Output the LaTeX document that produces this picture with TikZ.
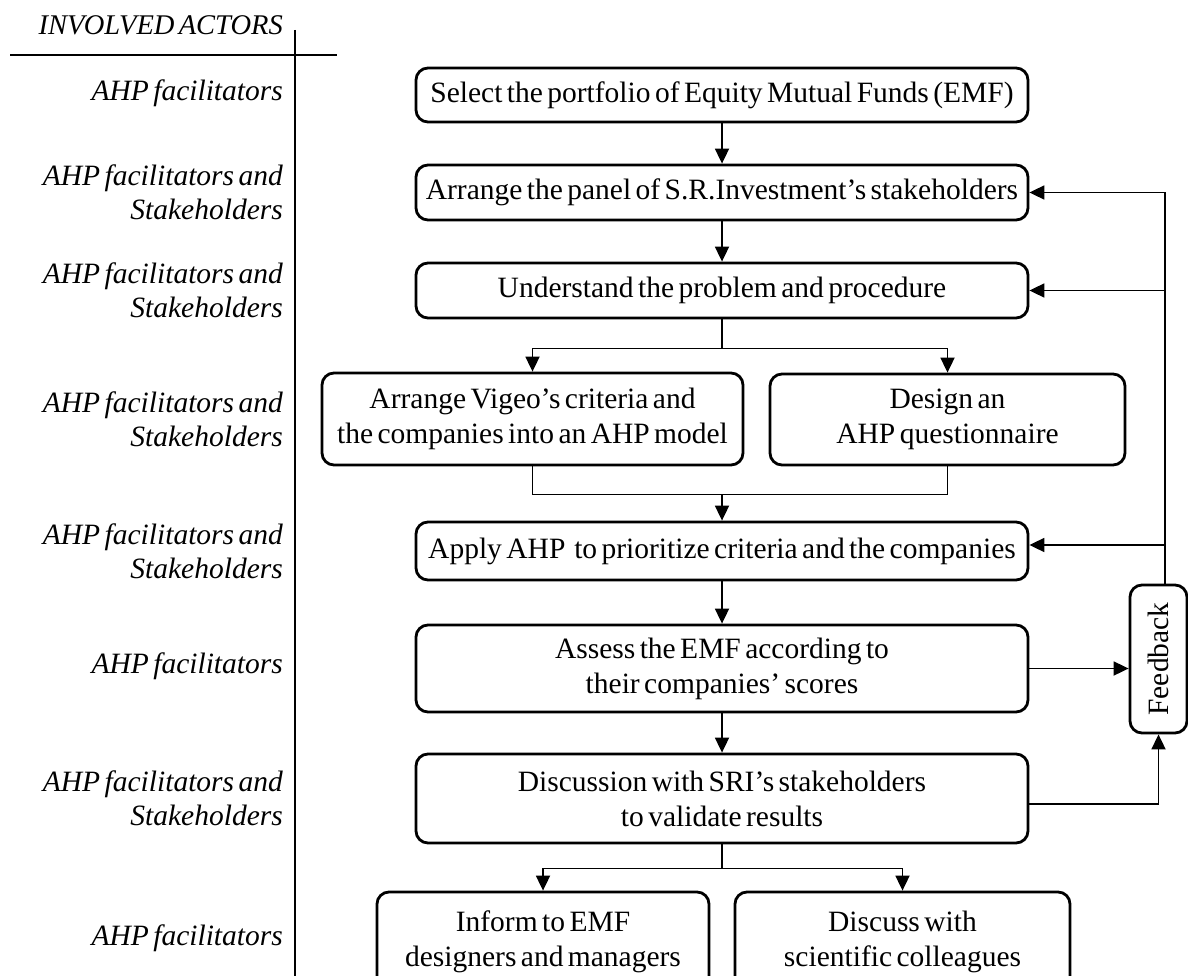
\documentclass[tikz,border=0pt]{standalone}
\usepackage{fontspec}
\setmainfont[WordSpace=0.6]{Liberation Serif}
\usetikzlibrary{arrows.meta,calc}
\tikzset{
  box/.style={draw, line width=2.8pt, rounded corners=12pt, align=center, inner sep=0pt,
    font=\fontsize{29.5}{35}\selectfont},
  lbl/.style={anchor=east, align=right, inner sep=0pt, font=\fontsize{29.5}{34}\selectfont\itshape},
  arr/.style={line width=1.8pt, -{Triangle[length=15pt,width=14pt]}},
  ln/.style={line width=1.8pt}
}
\begin{document}
\begin{tikzpicture}[x=1pt,y=-1pt]
\useasboundingbox (0,0) rectangle (1188,976);
\clip (0,0) rectangle (1188,976);

% actors column
\node[lbl, font=\fontsize{28.5}{34}\selectfont\itshape] (hdr) at (283,25) {INVOLVED ACTORS};
\coordinate (hl) at (10,55);
\coordinate (hr) at (337,55);
\coordinate (vt) at (295,30);
\coordinate (vb) at (295,976);
\draw[line width=2pt] (hl) -- (hr);
\draw[line width=2pt] (vt) -- (vb);

\node[lbl] (a1) at (283,93) {AHP facilitators};
\node[lbl] (a2) at (283,192) {AHP facilitators and\\Stakeholders};
\node[lbl] (a3) at (283,290) {AHP facilitators and\\Stakeholders};
\node[lbl] (a4) at (283,419) {AHP facilitators and\\Stakeholders};
\node[lbl] (a5) at (283,551) {AHP facilitators and\\Stakeholders};
\node[lbl] (a6) at (283,666) {AHP facilitators};
\node[lbl] (a7) at (283,798) {AHP facilitators and\\Stakeholders};
\node[lbl] (a8) at (283,938) {AHP facilitators};

% process boxes
\node[box, minimum width=612pt, minimum height=54pt] (b1) at (722,95)
  {Select the portfolio of Equity Mutual Funds (EMF)};
\node[box, minimum width=612pt, minimum height=55pt] (b2) at (722,192.5)
  {Arrange the panel of S.R.Investment’s stakeholders};
\node[box, minimum width=612pt, minimum height=55pt] (b3) at (722,290.5)
  {Understand the problem and procedure};
\node[box, minimum width=421pt, minimum height=92pt] (b4) at (532.5,419)
  {Arrange Vigeo’s criteria and\\the companies into an AHP model};
\node[box, minimum width=355pt, minimum height=91pt] (b5) at (947.5,419.5)
  {Design an\\AHP questionnaire};
\node[box, minimum width=612pt, minimum height=58pt] (b6) at (722,551)
  {Apply AHP~ to prioritize criteria and the companies};
\node[box, minimum width=612pt, minimum height=87pt] (b7) at (722,668.5)
  {Assess the EMF according to\\their companies’ scores};
\node[box, minimum width=612pt, minimum height=89pt] (b8) at (722,798.5)
  {Discussion with SRI’s stakeholders\\to validate results};
\node[box, minimum width=332pt, minimum height=100pt] (b9) at (543,942)
  {Inform to EMF\\designers and managers};
\node[box, minimum width=335pt, minimum height=100pt] (b10) at (902.5,942)
  {Discuss with\\scientific colleagues};
\node[box, minimum width=57pt, minimum height=148pt] (fb) at (1158.5,659) {};
\node[rotate=90, inner sep=0pt, font=\fontsize{29.5}{34}\selectfont] (fbt) at (fb.center) {Feedback};

% main flow
\draw[arr] (b1.south) -- (b2.north);
\draw[arr] (b2.south) -- (b3.north);
\coordinate (s1) at ($(b3.south)+(0,29)$);
\draw[ln] (b3.south) -- (s1);
\draw[arr] (s1) -| (b4.north);
\draw[arr] (s1) -| (b5.north);
\coordinate (m1) at ($(b4.south)+(0,28)$);
\draw[ln] (b4.south) -- (m1) -| (b5.south);
\draw[arr] (m1 -| b6.north) -- (b6.north);
\draw[arr] (b6.south) -- (b7.north);
\draw[arr] (b7.south) -- (b8.north);
\coordinate (s2) at ($(b8.south)+(0,24)$);
\draw[ln] (b8.south) -- (s2);
\draw[arr] (s2) -| (b9.north);
\draw[arr] (s2) -| (b10.north);

% feedback loop
\draw[arr] (b7.east) -- (b7.east -| fb.west);
\draw[arr] ($(b8.east)+(0,5.5)$) -| (fb.south);
\coordinate (ft) at ($(fb.north)+(6.5,0)$);
\draw[arr] (ft) |- (b2.east);
\draw[arr] (ft) |- (b3.east);
\draw[arr] (ft) |- ($(b6.east)+(0,-6)$);
\end{tikzpicture}
\end{document}
